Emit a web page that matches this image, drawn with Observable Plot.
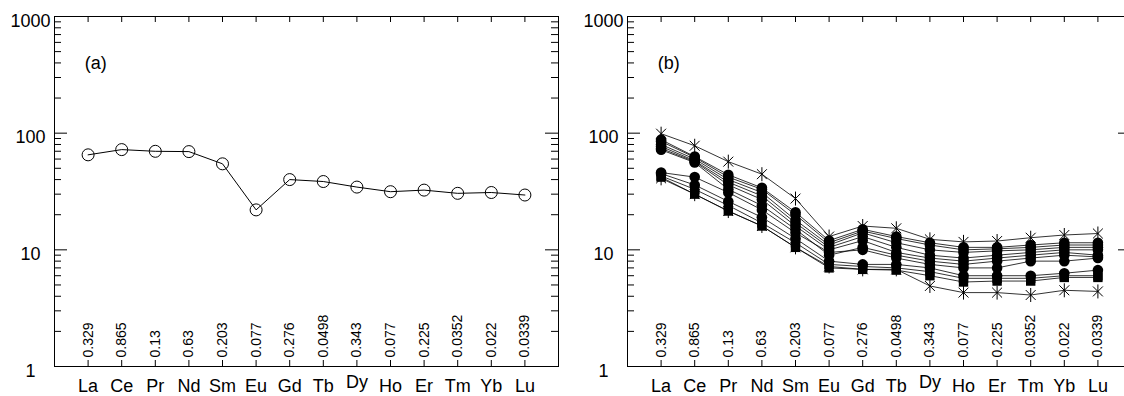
<!DOCTYPE html>
<html><head><meta charset="utf-8">
<script src="https://cdn.jsdelivr.net/npm/d3@7"></script>
<script src="https://cdn.jsdelivr.net/npm/@observablehq/plot@0.6"></script>
<style>
html,body{margin:0;padding:0;background:#fff;overflow:hidden;width:1124px;height:396px}
#wrap{position:relative;width:1124px;height:396px;overflow:hidden}
#a{position:absolute;left:0;top:0;width:562px}
#b{position:absolute;left:562px;top:0;width:574px}
#wrap svg{max-width:none !important}
</style></head><body><div id="wrap"><div id="a"></div><div id="b"></div></div>
<script>
const elements = ["La","Ce","Pr","Nd","Sm","Eu","Gd","Tb","Dy","Ho","Er","Tm","Yb","Lu"];
const chondrite = ["0.329","0.865","0.13","0.63","0.203","0.077","0.276","0.0498","0.343","0.077","0.225","0.0352","0.022","0.0339"];
const yTickValues = [1, 10, 100, 1000];
const yTickLabels = ["1", "10", "100", "1000"];

// panel (a): single sample, open circles
const sampleA = [65.2, 72.3, 69.9, 69.5, 54.6, 22.0, 40.0, 38.5, 34.5, 31.5, 32.5, 30.5, 31.0, 29.5];

// panel (b): asterisk series
const starHigh = [99, 78, 57, 44.5, 27.5, 13, 16, 15.3, 12.3, 11.7, 11.9, 12.7, 13.4, 13.8];
const starLow  = [41, 30, 21.5, 16, 10.5, 7.2, 6.8, 6.8, 4.9, 4.3, 4.3, 4.1, 4.5, 4.4];
// panel (b): filled-circle series
const b1 = [88, 63, 44, 34, 21, 12, 15, 13, 11.5, 10.5, 10.5, 11, 11.5, 11.5];
const b2 = [85, 62, 42, 33, 20, 11.5, 14.5, 12.5, 11, 10, 10.2, 10.5, 11, 11];
const b3 = [80, 60, 40, 31, 18, 11, 14, 11.5, 10, 9.5, 9.8, 10, 10.5, 10.5];
const b4 = [77, 58, 38, 29, 17, 10.5, 13, 10.5, 9, 8.5, 9, 9.5, 10, 10];
const b5 = [74, 57, 36, 27, 16, 10, 12, 9.5, 8.5, 8, 8.5, 9, 9.5, 9];
const b6 = [72, 56, 33, 24, 15, 9, 10.5, 9, 8, 7.5, 8, 8.5, 9, 8.7];
const b7 = [46, 42, 31, 22, 14, 9.5, 10, 8.5, 7.5, 7, 7, 8, 8, 8.5];
const b8 = [45, 36, 26, 19, 12.5, 8, 7.5, 7.5, 7, 6, 6, 6, 6.3, 6.7];
// panel (b): filled-square series
const b9  = [43, 33, 24, 17, 11.5, 7.5, 7.2, 7, 6.5, 5.7, 5.7, 5.7, 6, 6];
const b10 = [42, 30, 21.5, 16, 10.5, 7, 6.8, 6.7, 6, 5.3, 5.4, 5.4, 5.8, 5.8];

const seriesA = [{name: "a", values: sampleA, kind: "open"}];
const seriesB = [
  {name: "starHigh", values: starHigh, kind: "star"},
  {name: "starLow", values: starLow, kind: "star"},
  {name: "b1", values: b1, kind: "circle"},
  {name: "b2", values: b2, kind: "circle"},
  {name: "b3", values: b3, kind: "circle"},
  {name: "b4", values: b4, kind: "circle"},
  {name: "b5", values: b5, kind: "circle"},
  {name: "b6", values: b6, kind: "circle"},
  {name: "b7", values: b7, kind: "circle"},
  {name: "b8", values: b8, kind: "circle"},
  {name: "b9", values: b9, kind: "square"},
  {name: "b10", values: b10, kind: "square"}
];

const FONT = "'Liberation Sans', Arial, Helvetica, sans-serif";
const asterisk = {
  draw(ctx, size) {
    const r = Math.sqrt(size / Math.PI);
    const d = r * Math.SQRT1_2;
    ctx.moveTo(0, -r); ctx.lineTo(0, r);
    ctx.moveTo(-d, -d); ctx.lineTo(d, d);
    ctx.moveTo(-d, d); ctx.lineTo(d, -d);
  }
};

function panel(series, label, width, marginLeft, marginRight) {
  const frameW = width - marginLeft - marginRight;
  const kx = 15 / frameW;               // data units per pixel along x
  const decadePx = (396 - 16 - 30) / 3; // pixels per decade along y
  const up = px => Math.pow(10, px / decadePx);
  const positions = elements.map((e, i) => i + 1);
  const minor = [];
  for (const dec of [1, 10, 100]) for (let m = 2; m <= 9; m++) minor.push(dec * m);
  const table = elements.map((el, i) => ({el, pos: i + 1, c: chondrite[i]}));
  const rows = series.flatMap(s => s.values.map((v, i) => ({name: s.name, kind: s.kind, pos: i + 1, v})));
  const marks = [
    Plot.ruleY(yTickValues, {x1: 0, x2: 13 * kx, stroke: "black"}),
    Plot.ruleY(yTickValues, {x1: 15 - 13 * kx, x2: 15, stroke: "black"}),
    Plot.ruleY(minor, {x1: 0, x2: 7 * kx, stroke: "black"}),
    Plot.ruleY(minor, {x1: 15 - 7 * kx, x2: 15, stroke: "black"}),
    Plot.ruleX(positions, {y1: 1000, y2: 1000 / up(6), stroke: "black"}),
    Plot.ruleX(positions, {y1: 1, y2: up(6), stroke: "black"}),
    Plot.text(yTickValues, {y: d => d, text: yTickLabels, frameAnchor: "left", dx: -24, dy: 4.5, textAnchor: "middle", fontSize: 18}),
    Plot.text(table, {filter: d => d.el !== "Dy", x: "pos", y: () => 1, text: "el", dy: 20, fontSize: 18}),
    Plot.text(table, {filter: d => d.el === "Dy", x: "pos", y: () => 1, text: "el", dy: 15.5, fontSize: 18}),
    Plot.text(table, {x: "pos", y: () => 1, text: "c", rotate: -90, textAnchor: "start", lineAnchor: "middle", dy: -9, fontSize: 14}),
    Plot.text([label], {x: () => 0.9, y: () => 400, text: d => d, textAnchor: "start", fontSize: 18}),
    Plot.line(rows, {x: "pos", y: "v", z: "name", stroke: "black", strokeWidth: series.length > 1 ? 0.8 : 1}),
    Plot.dot(rows, {filter: d => d.kind === "open", x: "pos", y: "v", r: 6, stroke: "black", fill: "none", strokeWidth: 1}),
    Plot.dot(rows, {filter: d => d.kind === "star", x: "pos", y: "v", r: 7, symbol: asterisk, stroke: "black", fill: "none", strokeWidth: 1}),
    Plot.dot(rows, {filter: d => d.kind === "circle", x: "pos", y: "v", r: 5.3, fill: "black", stroke: "none"}),
    Plot.dot(rows, {filter: d => d.kind === "square", x: "pos", y: "v", r: 5.3, symbol: "square", fill: "black", stroke: "none"}),
    Plot.frame({stroke: "black", strokeWidth: 1})
  ];
  return Plot.plot({
    width, height: 396,
    marginLeft, marginRight, marginTop: 16, marginBottom: 30,
    x: {type: "linear", domain: [0, 15], axis: null},
    y: {type: "log", domain: [1, 1000], axis: null},
    style: {fontFamily: FONT, fontSize: "18px", background: "white", color: "black", overflow: "visible", maxWidth: "none"},
    marks
  });
}

document.getElementById("a").append(panel(seriesA, "(a)", 562, 54, 4));
document.getElementById("b").append(panel(seriesB, "(b)", 574, 65, 5));
</script>
</body></html>
